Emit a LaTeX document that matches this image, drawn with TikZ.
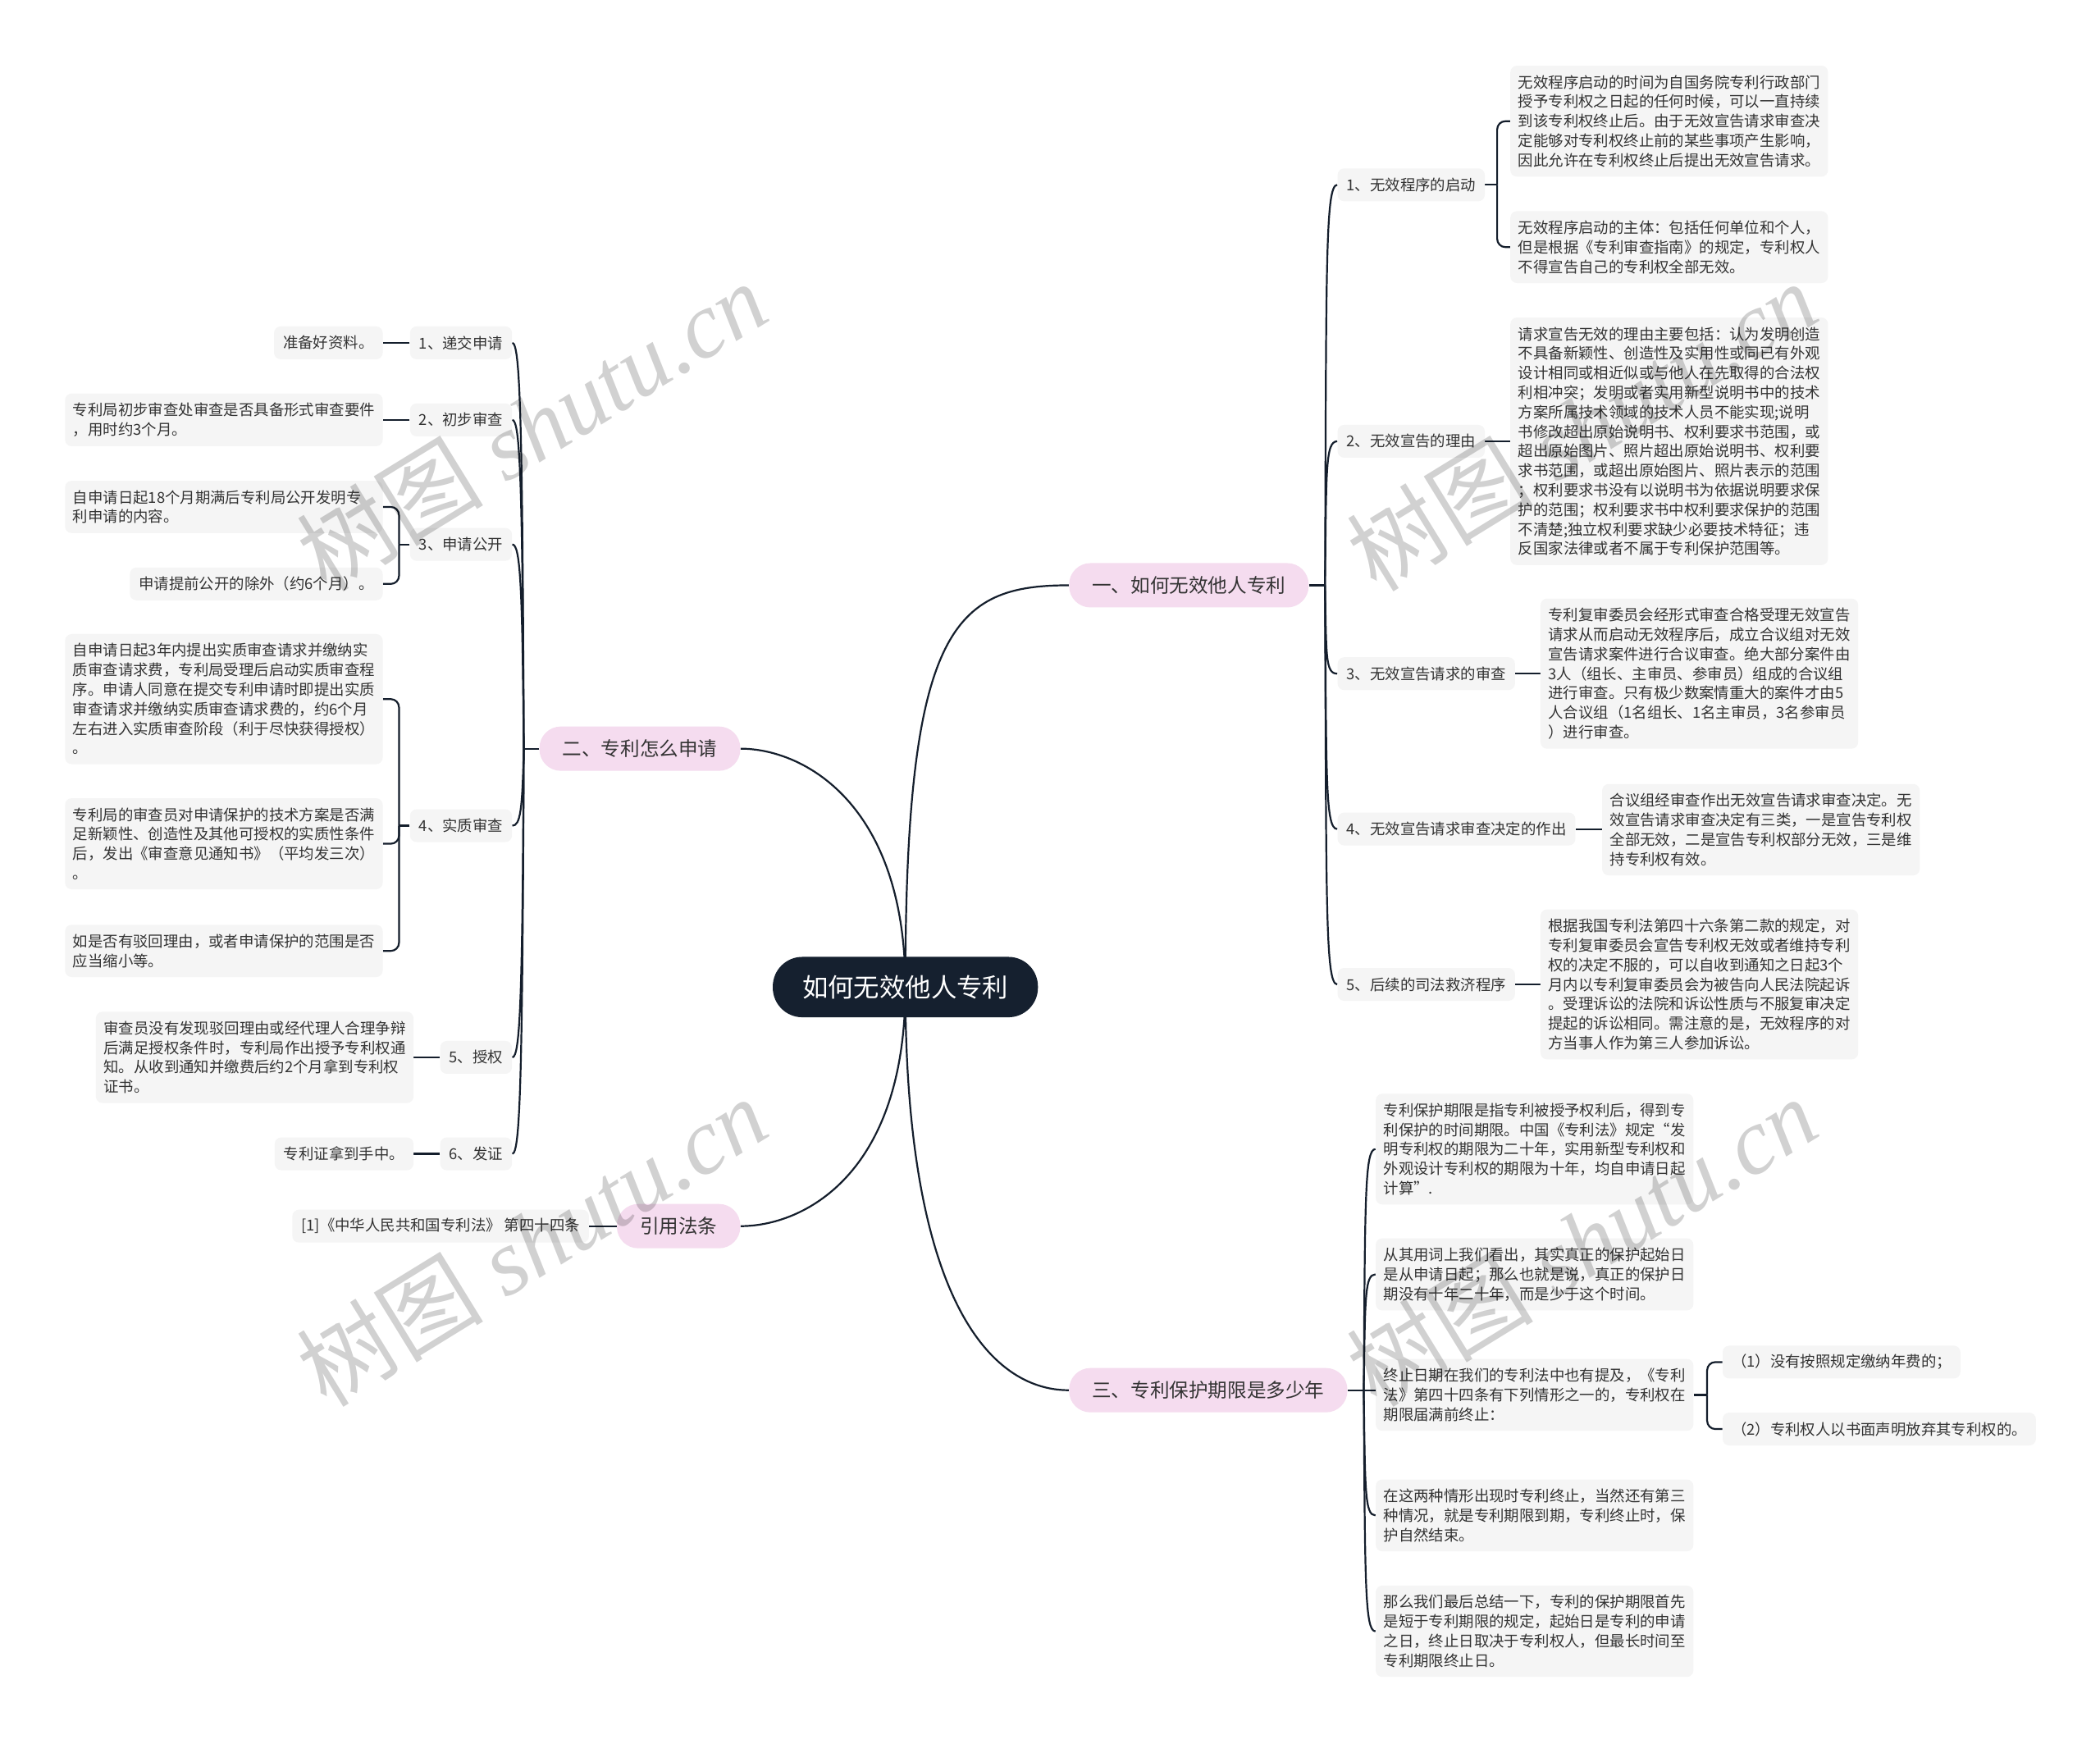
\documentclass[tikz,border=0pt]{standalone}
\usepackage{fontspec}
\setmainfont{Noto Sans CJK SC}
\newfontfamily\wmlatin{Liberation Serif}
\usetikzlibrary{backgrounds}
\definecolor{navy}{HTML}{15202F}
\definecolor{pinkf}{HTML}{F5DCEF}
\definecolor{leafg}{HTML}{F5F5F5}
\definecolor{txtc}{HTML}{333333}
\definecolor{linec}{HTML}{141E2C}
\begin{document}
\begin{tikzpicture}[x=0.8163pt, y=-0.8163pt,
  conn/.style={draw=linec, line width=1.1pt},
  rootn/.style={fill=navy, text=white, rounded corners=18pt, font=\fontsize{15.7}{18}\selectfont, minimum height=36.8pt, inner xsep=18pt, inner ysep=2pt},
  mainb/.style={fill=pinkf, text=txtc, rounded corners=13pt, font=\fontsize{11.8}{14}\selectfont, minimum height=27pt, inner xsep=14pt, inner ysep=2pt},
  subn/.style={fill=leafg, text=txtc, rounded corners=4pt, font=\fontsize{9.2}{11.9}\selectfont, minimum height=20pt, inner xsep=5.5pt, inner ysep=2pt},
  leaf/.style={fill=leafg, text=txtc, rounded corners=4pt, font=\fontsize{9.2}{11.9}\selectfont, align=left, text width=184pt, inner xsep=4.8pt, inner ysep=5.7pt},
  wm/.style={text=black, text opacity=0.18, font=\fontsize{57}{57}\selectfont, inner sep=0pt},
]
\useasboundingbox (0,0) rectangle (1568,1302);

% root and main branches
\node[rootn] (root) at (676,737) {如何无效他人专利};
\node[mainb, anchor=west] (b1) at (798,437) {一、如何无效他人专利};
\node[mainb, anchor=east] (b2) at (553,559) {二、专利怎么申请};
\node[mainb, anchor=east] (b3) at (553,915.5) {引用法条};
\node[mainb, anchor=west] (b4) at (798,1038) {三、专利保护期限是多少年};

% branch 1 sub nodes
\node[subn, anchor=west] (s11) at (998.5,138) {1、无效程序的启动};
\node[subn, anchor=west] (s12) at (998.5,329.5) {2、无效宣告的理由};
\node[subn, anchor=west] (s13) at (998.5,503) {3、无效宣告请求的审查};
\node[subn, anchor=west] (s14) at (998.5,619) {4、无效宣告请求审查决定的作出};
\node[subn, anchor=west] (s15) at (998.5,735) {5、后续的司法救济程序};

% branch 1 leaves
\node[leaf, anchor=west] (l11a) at (1127.5,90.5) {无效程序启动的时间为自国务院专利行政部门\\授予专利权之日起的任何时候，可以一直持续\\到该专利权终止后。由于无效宣告请求审查决\\定能够对专利权终止前的某些事项产生影响，\\因此允许在专利权终止后提出无效宣告请求。};
\node[leaf, anchor=west] (l11b) at (1127.5,184.5) {无效程序启动的主体：包括任何单位和个人，\\但是根据《专利审查指南》的规定，专利权人\\不得宣告自己的专利权全部无效。};
\node[leaf, anchor=west] (l12) at (1127.5,329.5) {请求宣告无效的理由主要包括：认为发明创造\\不具备新颖性、创造性及实用性或同已有外观\\设计相同或相近似或与他人在先取得的合法权\\利相冲突；发明或者实用新型说明书中的技术\\方案所属技术领域的技术人员不能实现;说明\\书修改超出原始说明书、权利要求书范围，或\\超出原始图片、照片超出原始说明书、权利要\\求书范围，或超出原始图片、照片表示的范围\\；权利要求书没有以说明书为依据说明要求保\\护的范围；权利要求书中权利要求保护的范围\\不清楚;独立权利要求缺少必要技术特征；违\\反国家法律或者不属于专利保护范围等。};
\node[leaf, anchor=west] (l13) at (1150,503) {专利复审委员会经形式审查合格受理无效宣告\\请求从而启动无效程序后，成立合议组对无效\\宣告请求案件进行合议审查。绝大部分案件由\\3人（组长、主审员、参审员）组成的合议组\\进行审查。只有极少数案情重大的案件才由5\\人合议组（1名组长、1名主审员，3名参审员\\）进行审查。};
\node[leaf, anchor=west] (l14) at (1196,619.5) {合议组经审查作出无效宣告请求审查决定。无\\效宣告请求审查决定有三类，一是宣告专利权\\全部无效，二是宣告专利权部分无效，三是维\\持专利权有效。};
\node[leaf, anchor=west] (l15) at (1150,735) {根据我国专利法第四十六条第二款的规定，对\\专利复审委员会宣告专利权无效或者维持专利\\权的决定不服的，可以自收到通知之日起3个\\月内以专利复审委员会为被告向人民法院起诉\\。受理诉讼的法院和诉讼性质与不服复审决定\\提起的诉讼相同。需注意的是，无效程序的对\\方当事人作为第三人参加诉讼。};

% branch 3 leaves
\node[leaf, anchor=west] (l41) at (1027,858) {专利保护期限是指专利被授予权利后，得到专\\利保护的时间期限。中国《专利法》规定“发\\明专利权的期限为二十年，实用新型专利权和\\外观设计专利权的期限为十年，均自申请日起\\计算”.};
\node[leaf, anchor=west] (l42) at (1027,951.5) {从其用词上我们看出，其实真正的保护起始日\\是从申请日起；那么也就是说，真正的保护日\\期没有十年二十年，而是少于这个时间。};
\node[leaf, anchor=west] (l43) at (1027,1041.5) {终止日期在我们的专利法中也有提及，《专利\\法》第四十四条有下列情形之一的，专利权在\\期限届满前终止：};
\node[subn, anchor=west] (l43a) at (1286,1017) {（1）没有按照规定缴纳年费的；};
\node[subn, anchor=west] (l43b) at (1286,1067) {（2）专利权人以书面声明放弃其专利权的。};
\node[leaf, anchor=west] (l44) at (1027,1131.5) {在这两种情形出现时专利终止，当然还有第三\\种情况，就是专利期限到期，专利终止时，保\\护自然结束。};
\node[leaf, anchor=west] (l45) at (1027,1218) {那么我们最后总结一下，专利的保护期限首先\\是短于专利期限的规定，起始日是专利的申请\\之日，终止日取决于专利权人，但最长时间至\\专利期限终止日。};

% branch 2 sub nodes
\node[subn, anchor=east] (s21) at (382.5,256) {1、递交申请};
\node[subn, anchor=east] (s22) at (382.5,313.5) {2、初步审查};
\node[subn, anchor=east] (s23) at (382.5,406.5) {3、申请公开};
\node[subn, anchor=east] (s24) at (382.5,616.5) {4、实质审查};
\node[subn, anchor=east] (s25) at (382.5,789.5) {5、授权};
\node[subn, anchor=east] (s26) at (382.5,861.5) {6、发证};

% branch 2 leaves
\node[subn, anchor=east] (l21) at (286,256) {准备好资料。};
\node[leaf, anchor=east] (l22) at (286,313.5) {专利局初步审查处审查是否具备形式审查要件\\，用时约3个月。};
\node[leaf, anchor=east] (l23a) at (286,378.5) {自申请日起18个月期满后专利局公开发明专\\利申请的内容。};
\node[subn, anchor=east] (l23b) at (286,436) {申请提前公开的除外（约6个月）。};
\node[leaf, anchor=east] (l24a) at (286,522) {自申请日起3年内提出实质审查请求并缴纳实\\质审查请求费，专利局受理后启动实质审查程\\序。申请人同意在提交专利申请时即提出实质\\审查请求并缴纳实质审查请求费的，约6个月\\左右进入实质审查阶段（利于尽快获得授权）\\。};
\node[leaf, anchor=east] (l24b) at (286,630) {专利局的审查员对申请保护的技术方案是否满\\足新颖性、创造性及其他可授权的实质性条件\\后，发出《审查意见通知书》（平均发三次）\\。};
\node[leaf, anchor=east] (l24c) at (286,710) {如是否有驳回理由，或者申请保护的范围是否\\应当缩小等。};
\node[leaf, anchor=east] (l25) at (309,789.5) {审查员没有发现驳回理由或经代理人合理争辩\\后满足授权条件时，专利局作出授予专利权通\\知。从收到通知并缴费后约2个月拿到专利权\\证书。};
\node[subn, anchor=east] (l26) at (309,861.5) {专利证拿到手中。};

% citation leaf
\node[subn, anchor=east] (l30) at (440,915.5) {[1]《中华人民共和国专利法》 第四十四条};

\begin{scope}[on background layer]
\fill[white] (0,0) rectangle (1568,1302);
% root connectors
\draw[conn] (root.center) .. controls +(0,-268) and +(-86,0) .. (b1.west);
\draw[conn] (root.center) .. controls +(0,-137) and +(47,0) .. (b2.east);
\draw[conn] (root.center) .. controls +(0,140) and +(47,0) .. (b3.east);
\draw[conn] (root.center) .. controls +(0,230) and +(-60,0) .. (b4.west);
% branch 1 trunk
\draw[conn] (b1.east) -- ++(12,0) coordinate (k1);
\draw[conn] (k1) .. controls +(1,-239) and +(-9,0) .. (s11.west);
\draw[conn] (k1) .. controls +(1,-86) and +(-9,0) .. (s12.west);
\draw[conn] (k1) .. controls +(1,53) and +(-9,0) .. (s13.west);
\draw[conn] (k1) .. controls +(1,145) and +(-9,0) .. (s14.west);
\draw[conn] (k1) .. controls +(1,238) and +(-9,0) .. (s15.west);
% branch 1 leaves
\draw[conn] (s11.east) -- ++(9,0) coordinate (k11);
\draw[conn, rounded corners=5pt] (k11) |- (l11a.west);
\draw[conn, rounded corners=5pt] (k11) |- (l11b.west);
\draw[conn] (s12.east) -- (s12.east -| l12.west);
\draw[conn] (s13.east) -- (s13.east -| l13.west);
\draw[conn] (s14.east) -- (s14.east -| l14.west);
\draw[conn] (s15.east) -- (s15.east -| l15.west);
% branch 3 trunk
\draw[conn] (b4.east) -- ++(12,0) coordinate (k4);
\draw[conn] (k4) .. controls +(1,-144) and +(-8,0) .. (l41.west);
\draw[conn] (k4) .. controls +(1,-69) and +(-8,0) .. (l42.west);
\draw[conn] (k4) -- (k4 -| l43.west);
\draw[conn] (k4) .. controls +(1,75) and +(-8,0) .. (l44.west);
\draw[conn] (k4) .. controls +(1,144) and +(-8,0) .. (l45.west);
\draw[conn] (l43.east) -- ++(10,0) coordinate (k43);
\draw[conn, rounded corners=5pt] (k43) |- (l43a.west);
\draw[conn, rounded corners=5pt] (k43) |- (l43b.west);
% branch 2 trunk
\draw[conn] (b2.west) -- ++(-11.5,0) coordinate (k2);
\draw[conn] (k2) .. controls +(-1,-242) and +(6,0) .. (s21.east);
\draw[conn] (k2) .. controls +(-1,-196) and +(6,0) .. (s22.east);
\draw[conn] (k2) .. controls +(-1,-122) and +(6,0) .. (s23.east);
\draw[conn] (k2) .. controls +(-1,46) and +(6,0) .. (s24.east);
\draw[conn] (k2) .. controls +(-1,184) and +(6,0) .. (s25.east);
\draw[conn] (k2) .. controls +(-1,242) and +(6,0) .. (s26.east);
% branch 2 leaves
\draw[conn] (s21.west) -- (s21.west -| l21.east);
\draw[conn] (s22.west) -- (s22.west -| l22.east);
\draw[conn] (s23.west) -- ++(-8,0) coordinate (k23);
\draw[conn, rounded corners=5pt] (k23) |- (l23a.east);
\draw[conn, rounded corners=5pt] (k23) |- (l23b.east);
\draw[conn] (s24.west) -- ++(-8,0) coordinate (k24);
\draw[conn, rounded corners=5pt] (k24) |- (l24a.east);
\draw[conn, rounded corners=5pt] (k24) |- (l24b.east);
\draw[conn, rounded corners=5pt] (k24) |- (l24c.east);
\draw[conn] (s25.west) -- (s25.west -| l25.east);
\draw[conn] (s26.west) -- (s26.west -| l26.east);
\draw[conn] (b3.west) -- (b3.west -| l30.east);
\end{scope}

% watermarks
\node[wm, rotate=31.6] (w1) at (397,318) {树图\hspace{0.25em}{\wmlatin\itshape shutu.cn}};
\node[wm, rotate=31.6] (w2) at (1181,318) {树图\hspace{0.25em}{\wmlatin\itshape shutu.cn}};
\node[wm, rotate=31.6] (w3) at (397,927) {树图\hspace{0.25em}{\wmlatin\itshape shutu.cn}};
\node[wm, rotate=31.6] (w4) at (1181,927) {树图\hspace{0.25em}{\wmlatin\itshape shutu.cn}};
\end{tikzpicture}
\end{document}
